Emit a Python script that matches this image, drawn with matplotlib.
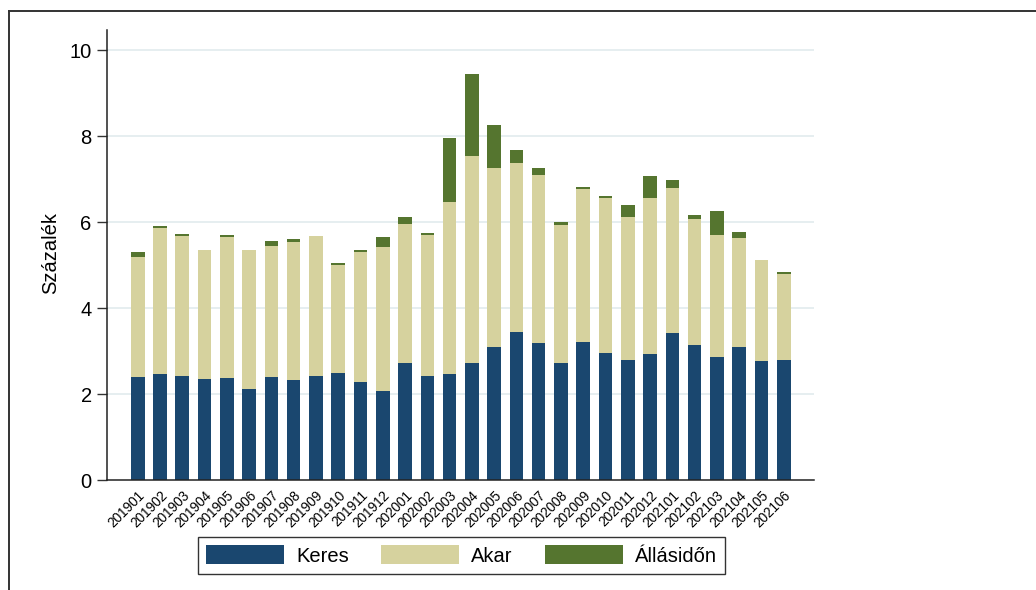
import matplotlib
matplotlib.use("Agg")
import matplotlib.pyplot as plt
from matplotlib.lines import Line2D
import numpy as np

plt.rcParams['font.family'] = ['Liberation Sans', 'DejaVu Sans']

months = ["201901", "201902", "201903", "201904", "201905", "201906", "201907", "201908",
          "201909", "201910", "201911", "201912", "202001", "202002", "202003", "202004",
          "202005", "202006", "202007", "202008", "202009", "202010", "202011", "202012",
          "202101", "202102", "202103", "202104", "202105", "202106"]

keres = [2.40, 2.47, 2.41, 2.35, 2.37, 2.12, 2.39, 2.32, 2.43, 2.49, 2.28, 2.08, 2.73, 2.43, 2.47,
         2.73, 3.09, 3.44, 3.18, 2.72, 3.22, 2.95, 2.79, 2.93, 3.43, 3.13, 2.87, 3.09, 2.76, 2.79]
akar = [2.78, 3.40, 3.27, 2.99, 3.29, 3.22, 3.05, 3.21, 3.24, 2.51, 3.02, 3.34, 3.23, 3.28, 4.00,
        4.82, 4.17, 3.93, 3.92, 3.22, 3.54, 3.62, 3.33, 3.64, 3.37, 2.94, 2.84, 2.55, 2.35, 2.01]
allasidon = [0.12, 0.03, 0.04, 0.00, 0.03, 0.01, 0.12, 0.08, 0.01, 0.06, 0.04, 0.23, 0.16, 0.03, 1.49,
             1.89, 0.99, 0.30, 0.16, 0.06, 0.05, 0.04, 0.28, 0.51, 0.18, 0.10, 0.55, 0.12, 0.01, 0.05]

series_labels = ["Keres", "Akar", "Állásidőn"]
colors = ["#1a476f", "#d6d29e", "#55752f"]
yticks = [0, 2, 4, 6, 8, 10]

W, H = 1036, 590
fig = plt.figure(figsize=(W / 100, H / 100), dpi=100)
ax = fig.add_axes([107 / W, 1 - 480 / H, 707 / W, 450 / H])

x = np.arange(len(months))
k = np.array(keres)
a = np.array(akar)
g = np.array(allasidon)
bw = 0.61
ax.bar(x, k, bw, color=colors[0], label=series_labels[0], zorder=2, linewidth=0)
ax.bar(x, a, bw, bottom=k, color=colors[1], label=series_labels[1], zorder=2, linewidth=0)
ax.bar(x, g, bw, bottom=k + a, color=colors[2], label=series_labels[2], zorder=2, linewidth=0)

ax.set_xlim(-1.38, 30.36)
ax.set_ylim(0, 10.47)
ax.set_yticks(yticks)
ax.set_yticklabels([str(v) for v in yticks], fontsize=14.5)
for yv in yticks[1:]:
    ax.axhline(yv, color="#e6eef0", linewidth=1.4, zorder=1)

ax.set_xticks(x)
ax.set_xticklabels(months, rotation=45, ha="right", va="top", rotation_mode="anchor", fontsize=9.8)
ax.tick_params(axis="x", length=0, pad=6)
ax.tick_params(axis="y", length=7, width=1, pad=4, color="#333333")

for s in ["top", "right"]:
    ax.spines[s].set_visible(False)
for s in ["left", "bottom"]:
    ax.spines[s].set_color("#222222")
    ax.spines[s].set_linewidth(1.1)

ax.set_ylabel("Százalék", fontsize=14.5)
ax.yaxis.set_label_coords(-0.066, 0.505)

leg = fig.legend(loc="center", bbox_to_anchor=(461.5 / W, 1 - 555.5 / H), ncol=3,
                 fontsize=14.5, frameon=True, fancybox=False, edgecolor="black",
                 handlelength=3.86, handleheight=1.04, handletextpad=0.61,
                 columnspacing=1.6, borderpad=0.4)
leg.get_frame().set_linewidth(1.0)

# outer frame (graph region border)
fig.add_artist(Line2D([8.5 / W, 1.0], [1 - 11 / H, 1 - 11 / H], transform=fig.transFigure,
                      color="#333333", linewidth=1.4))
fig.add_artist(Line2D([8.5 / W, 8.5 / W], [0, 1 - 11 / H], transform=fig.transFigure,
                      color="#333333", linewidth=1.4))

fig.savefig("out.png", dpi=100, facecolor="white")
